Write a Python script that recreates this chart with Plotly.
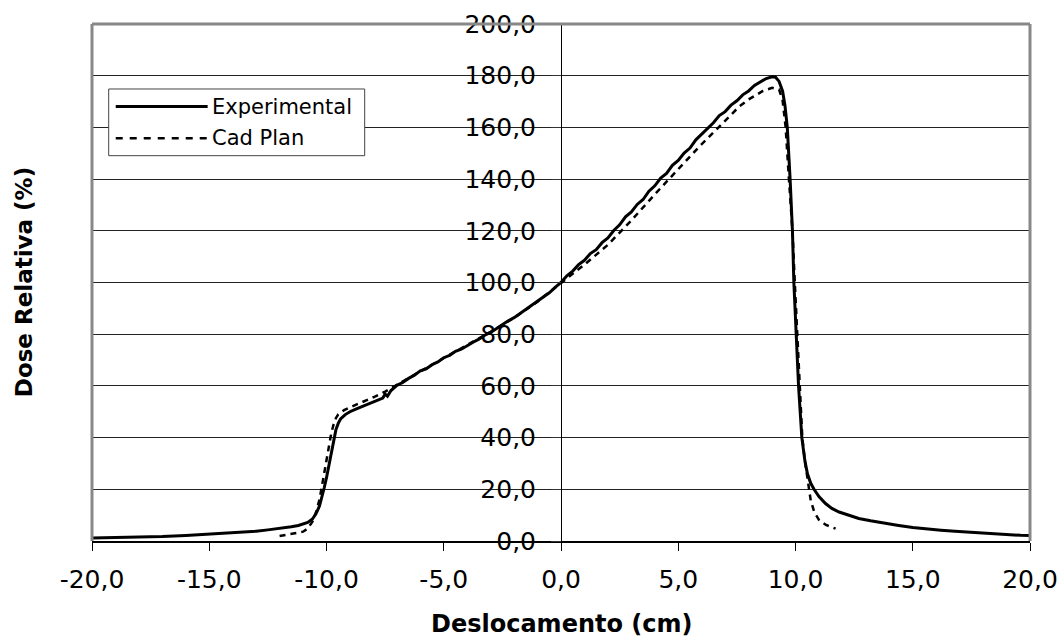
import plotly.graph_objects as go

# ---- data ----
exp_x = [-20, -19, -18, -17, -16, -15, -14, -13, -12.5, -12, -11.5, -11.2, -11.0, -10.8, -10.6,
         -10.45, -10.3, -10.2, -10.1, -10.0, -9.9, -9.8, -9.7, -9.6, -9.5, -9.4, -9.2, -9.0,
         -8.75, -8.5, -8.25, -8.0, -7.75, -7.6, -7.5, -7.4, -7.25,
         -7.0, -6.75, -6.5, -6.25, -6.0, -5.75, -5.5, -5.25, -5.0, -4.75, -4.5, -4.25, -4.0,
         -3.75, -3.5, -3.25, -3.0, -2.75, -2.5, -2.25, -2.0, -1.75, -1.5, -1.25, -1.0, -0.75,
         -0.5, -0.25, 0, 0.25, 0.5, 0.75, 1.0, 1.25, 1.5, 1.75, 2.0, 2.25, 2.5, 2.75, 3.0,
         3.25, 3.5, 3.75, 4.0, 4.25, 4.5, 4.75, 5.0, 5.25, 5.5, 5.75, 6.0, 6.25, 6.5, 6.75,
         7.0, 7.25, 7.5, 7.75, 8.0, 8.25, 8.5, 8.75, 9.0, 9.15, 9.3, 9.45, 9.55, 9.65, 9.77,
         9.87, 9.93, 10.02, 10.13, 10.27, 10.4, 10.51, 10.65, 10.79, 11.0, 11.28, 11.55, 11.86,
         12.3, 12.7, 13.2, 13.8, 14.4, 15.0, 15.6, 16.2, 16.8, 17.4, 18.0, 18.6, 19.2, 19.6, 20.0]
exp_y = [1.2, 1.3, 1.5, 1.7, 2.1, 2.6, 3.1, 3.8, 4.3, 4.8, 5.5, 6.0, 6.5, 7.2, 8.5,
         10.5, 13.5, 16.5, 20.5, 24.5, 29.0, 34.0, 39.0, 43.0, 45.5, 47.2, 48.9, 50.0,
         51.0, 52.0, 52.9, 53.9, 55.0, 55.3, 56.8, 56.0, 58.2,
         60.2, 61.3, 62.9, 64.1, 65.8, 66.6, 68.2, 69.3, 70.9, 71.8, 73.4, 74.2, 75.7,
         76.9, 78.1, 79.6, 80.7, 82.3, 83.6, 85.2, 86.4, 88.0, 89.4, 91.2, 92.6, 94.5,
         96.0, 98.1, 100.0, 102.6, 104.4, 106.9, 108.6, 111.2, 112.7, 115.4, 117.2, 120.1, 122.3, 125.4, 127.3,
         130.2, 132.1, 135.3, 137.4, 140.4, 142.2, 145.3, 147.2, 150.1, 152.0, 155.2, 157.4, 160.0, 161.8, 164.6,
         166.1, 168.6, 170.3, 172.6, 174.1, 176.2, 177.4, 178.9, 179.6, 179.4, 177.8, 174.0, 168.5, 160.0, 140.0,
         120.0, 100.0, 80.0, 60.0, 40.0, 31.0, 26.0, 22.3, 20.0, 17.2, 14.5, 12.6, 11.2,
         9.8, 8.7, 7.8, 6.8, 6.0, 5.2, 4.6, 4.2, 3.8, 3.4, 3.0, 2.7, 2.4, 2.2, 2.1]

cad_x = [-12.0, -11.5, -11.0, -10.8, -10.6, -10.45, -10.3, -10.2, -10.1, -10.0, -9.9, -9.8,
         -9.7, -9.6, -9.5, -9.25, -9.0, -8.5, -8.0, -7.5, -7.0, -6.0, -5.0, -4.0, -3.0, -2.0,
         -1.0, 0, 1.0, 2.0, 3.0, 4.0, 5.0, 5.88, 6.74, 7.59, 8.0, 8.59, 9.0, 9.3, 9.45, 9.58,
         9.72, 9.87, 9.97, 10.08, 10.18, 10.29, 10.4, 10.51, 10.65, 10.8, 11.0, 11.3, 11.71]
cad_y = [1.9, 2.7, 3.6, 4.8, 7.5, 11.0, 16.0, 21.0, 26.0, 31.5, 37.0, 41.5,
         45.0, 47.5, 49.0, 50.6, 51.7, 53.6, 55.6, 57.8, 60.3, 65.6, 70.8, 75.8, 80.9, 86.3,
         92.6, 99.8, 106.9, 114.6, 124.0, 134.1, 144.0, 152.4, 160.2, 168.0, 170.8, 174.0, 175.3, 174.6, 170.5, 160.0,
         140.0, 120.0, 100.0, 80.0, 60.0, 40.0, 31.0, 24.0, 15.7, 11.2, 8.2, 6.2, 4.8]

series_names = ["Experimental", "Cad Plan"]
x_tick_vals = [-20, -15, -10, -5, 0, 5, 10, 15, 20]
x_tick_text = ["-20,0", "-15,0", "-10,0", "-5,0", "0,0", "5,0", "10,0", "15,0", "20,0"]
x_title = "Deslocamento (cm)"
y_title = "Dose Relativa (%)"

FONT = "DejaVu Sans"

fig = go.Figure()
fig.add_trace(go.Scatter(x=exp_x, y=exp_y, mode="lines", name=series_names[0],
                         line=dict(color="black", width=3), showlegend=False))
fig.add_trace(go.Scatter(x=cad_x, y=cad_y, mode="lines", name=series_names[1],
                         line=dict(color="black", width=2.5, dash="6px,5px"), showlegend=False))

fig.update_layout(
    width=1064, height=643,
    margin=dict(l=92, r=34, t=24, b=102),
    paper_bgcolor="white", plot_bgcolor="white",
    separators=",.",
    font=dict(family=FONT, color="black", size=25),
    xaxis=dict(range=[-20, 20], tickvals=x_tick_vals, ticktext=x_tick_text,
               ticks="outside", ticklen=8, tickcolor="black", tickwidth=1,
               showline=True, linecolor="black", linewidth=1.5,
               showgrid=False, zeroline=False, ticklabelstandoff=7, automargin=False,
               tickfont=dict(family=FONT, size=25, color="black")),
    yaxis=dict(range=[0, 200], tick0=0, dtick=20, tickformat=".1f",
               anchor="free", position=0.5, automargin=False,
               ticks="outside", ticklen=10, tickcolor="#333", tickwidth=1,
               showline=True, linecolor="black", linewidth=1,
               showgrid=True, gridcolor="#222", gridwidth=1,
               zeroline=False, ticklabelstandoff=10,
               tickfont=dict(family=FONT, size=25, color="black")),
)

# plot-area frame (grey left/top/right)
for (x0, y0, x1, y1) in [(0, 0, 0, 1), (0, 1, 1, 1), (1, 0, 1, 1)]:
    fig.add_shape(type="line", xref="paper", yref="paper", x0=x0, y0=y0, x1=x1, y1=y1,
                  line=dict(color="#888888", width=3), layer="above")

# legend box (manual, to get the long line samples)
fig.add_shape(type="rect", xref="paper", yref="paper", x0=0.0178, x1=0.2907, y0=0.7453, y1=0.8743,
              line=dict(color="#444444", width=1), fillcolor="white", layer="above")
fig.add_shape(type="line", xref="paper", yref="paper", x0=0.0253, x1=0.1233, y0=0.8404, y1=0.8404,
              line=dict(color="black", width=3), layer="above")
fig.add_shape(type="line", xref="paper", yref="paper", x0=0.0253, x1=0.1233, y0=0.7789, y1=0.7789,
              line=dict(color="black", width=2.5, dash="7px,7px"), layer="above")
fig.add_annotation(xref="paper", yref="paper", x=0.1260, y=0.8404, xanchor="left", yanchor="middle",
                   text=series_names[0], showarrow=False, font=dict(family=FONT, size=21, color="black"))
fig.add_annotation(xref="paper", yref="paper", x=0.1260, y=0.7789, xanchor="left", yanchor="middle",
                   text=series_names[1], showarrow=False, font=dict(family=FONT, size=21, color="black"))

# axis titles
fig.add_annotation(xref="paper", yref="paper", x=0.5, y=-0.1605, xanchor="center", yanchor="middle",
                   text="<b>%s</b>" % x_title, showarrow=False, font=dict(family=FONT, size=24, color="black"))
fig.add_annotation(xref="paper", yref="paper", x=-0.0728, y=0.5, xanchor="center", yanchor="middle",
                   text="<b>%s</b>" % y_title, textangle=-90, showarrow=False,
                   font=dict(family=FONT, size=23, color="black"))

fig.write_html("out.html", config={"displayModeBar": False},
               post_script="document.body.style.margin='0';")
